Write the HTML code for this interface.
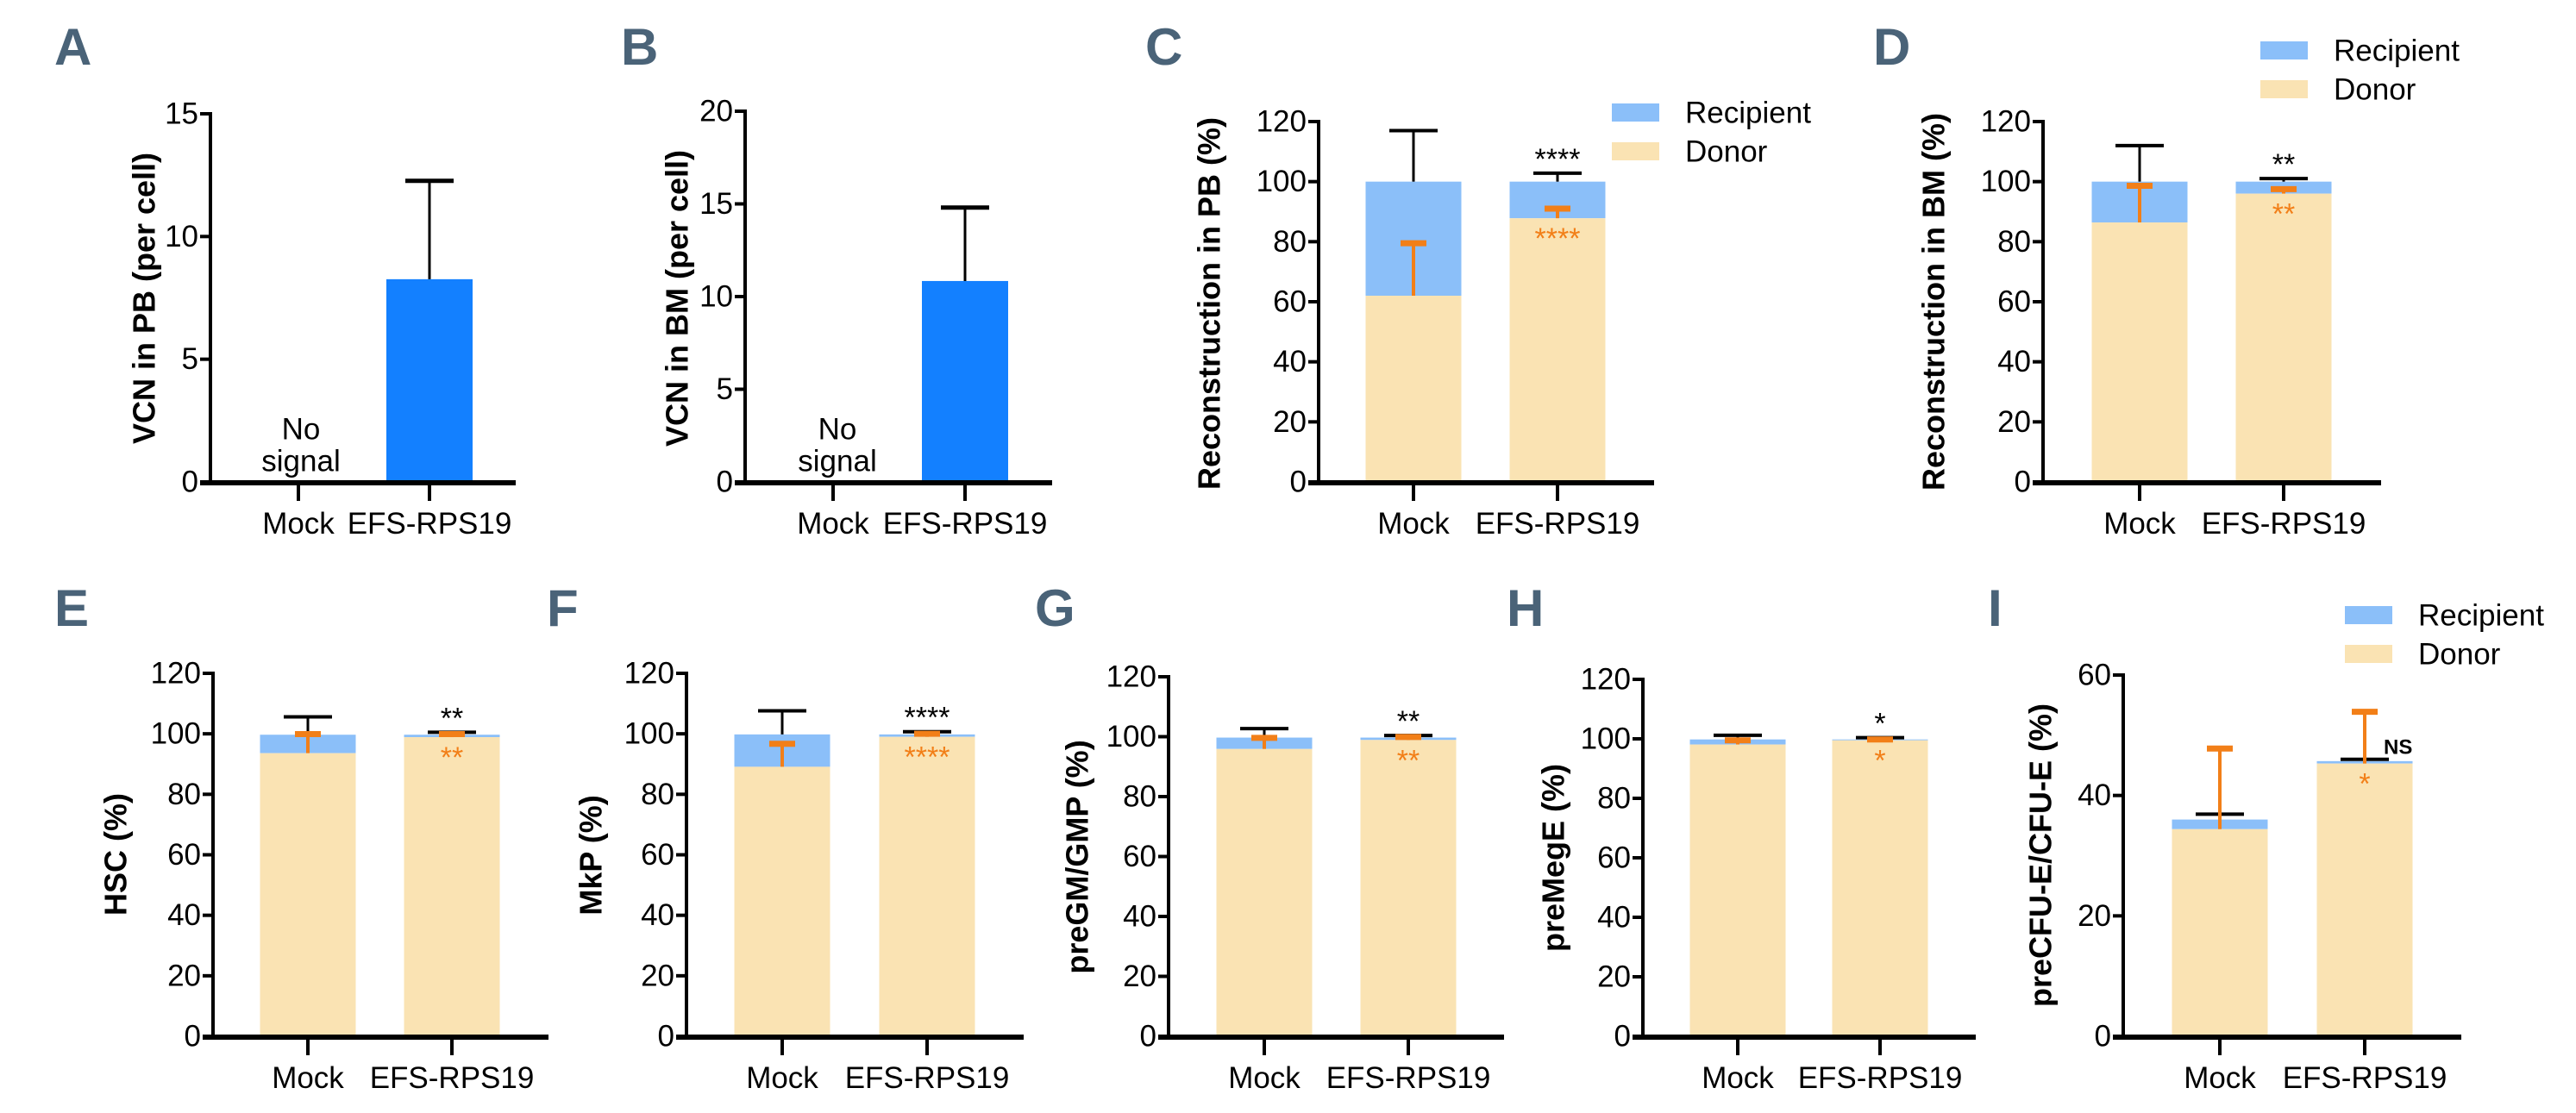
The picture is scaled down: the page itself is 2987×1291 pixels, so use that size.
<!DOCTYPE html>
<html><head><meta charset="utf-8"><style>
html,body{margin:0;padding:0;background:#fff}
svg{display:block}
text{font-family:"Liberation Sans",Arial,sans-serif}
</style></head><body>
<svg id="fig" width="2987" height="1291" viewBox="0 0 2987 1291" xmlns="http://www.w3.org/2000/svg"></svg>
<script>
// ---- data ----
const groups = ["Mock", "EFS-RPS19"];
const aValues = [null, 8.26];
const aErr = [null, 12.27];
const bValues = [null, 10.84];
const bErr = [null, 14.8];
const cDonor = [62, 87.8];  const cTotal = [100, 100]; const cBlack = [117, 102.8]; const cOrange = [79.5, 91];
const dDonor = [86.4, 96];  const dTotal = [100, 100]; const dBlack = [112, 101];   const dOrange = [98.6, 97.5];
const eDonor = [93.6, 98.9]; const eTotal = [99.7, 99.7]; const eBlack = [105.6, 100.5]; const eOrange = [99.9, 99.9];
const fDonor = [89.1, 99];  const fTotal = [99.8, 99.8]; const fBlack = [107.6, 100.7]; const fOrange = [96.7, 100];
const gDonor = [95.9, 98.9]; const gTotal = [99.7, 99.7]; const gBlack = [102.7, 100.4]; const gOrange = [99.6, 99.9];
const hDonor = [98.1, 99.5]; const hTotal = [99.8, 99.8]; const hBlack = [101.2, 100.4]; const hOrange = [99.5, 99.8];
const iDonor = [34.4, 45.3]; const iTotal = [36.0, 45.7]; const iBlack = [36.9, 46.0]; const iOrange = [47.8, 53.9];
const cStars = ["****","****"]; const dStars = ["**","**"]; const eStars = ["**","**"];
const fStars = ["****","****"]; const gStars = ["**","**"]; const hStars = ["*","*"]; const iStars = ["NS","*"];
const ticks120 = [0,20,40,60,80,100,120];
const ticks60 = [0,20,40,60];
const ticks15 = [0,5,10,15];
const ticks20 = [0,5,10,15,20];

const NS = "http://www.w3.org/2000/svg";
const svg = document.getElementById('fig');
const C_BLUE = "#1380ff", C_REC = "#8bbff9", C_DON = "#fae3b3", C_OR = "#f27f18";
function el(tag, attrs, parent, text){
  const e = document.createElementNS(NS, tag);
  for (const k in attrs) e.setAttribute(k, attrs[k]);
  if (text !== undefined) e.textContent = text;
  (parent || svg).appendChild(e);
  return e;
}
function panel(g){
  const grp = el('g', {});
  
  
  const ys = v => g.y0 - (v / g.max) * (g.y0 - g.yTop);
  const L = el('text', {x:g.lx, y:g.ly, 'font-size':60, 'font-weight':'bold', fill:'#4a6378'}, grp, g.letter);
  
  
  const yl = el('text', {x:0, y:0, 'font-size':36, 'font-weight':'bold', 'text-anchor':'middle', 'dominant-baseline':'central',
    transform:`translate(${g.ylx},${g.yly}) rotate(-90)`}, grp, g.ylabel);
  
  
  const bw = g.bw;
  g.tx.forEach((cx, i) => {
    if (g.single) {
      if (g.vals[i] == null) return;
      const r = el('rect', {x:cx-bw/2, y:ys(g.vals[i]), width:bw, height:g.y0-ys(g.vals[i]), fill:C_BLUE}, grp);
      
      
      el('line', {x1:cx, x2:cx, y1:ys(g.vals[i]), y2:ys(g.err[i]), stroke:'#000', 'stroke-width':3}, grp);
      el('line', {x1:cx-28, x2:cx+28, y1:ys(g.err[i]), y2:ys(g.err[i]), stroke:'#000', 'stroke-width':5}, grp);
    } else {
      const rr = el('rect', {x:cx-bw/2, y:ys(g.total[i]), width:bw, height:ys(g.donor[i])-ys(g.total[i]), fill:C_REC}, grp);
      
      
      const rd = el('rect', {x:cx-bw/2, y:ys(g.donor[i]), width:bw, height:g.y0-ys(g.donor[i]), fill:C_DON}, grp);
      
      
      el('line', {x1:cx, x2:cx, y1:ys(g.total[i]), y2:ys(g.black[i]), stroke:'#000', 'stroke-width':3}, grp);
      el('line', {x1:cx-28, x2:cx+28, y1:ys(g.black[i]), y2:ys(g.black[i]), stroke:'#000', 'stroke-width':4}, grp);
      el('line', {x1:cx, x2:cx, y1:ys(g.donor[i]), y2:ys(g.orange[i]), stroke:C_OR, 'stroke-width':4}, grp);
      el('line', {x1:cx-15, x2:cx+15, y1:ys(g.orange[i]), y2:ys(g.orange[i]), stroke:C_OR, 'stroke-width':7}, grp);
      if (i === 1) {
        if (g.stars[0] === "NS") {
          el('text', {x:cx+22, y:ys(g.black[i])-14, 'font-size':24, 'font-weight':'bold', 'dominant-baseline':'central'}, grp, 'NS');
        } else {
          el('text', {x:cx, y:ys(g.black[i])-16, 'font-size':34, 'text-anchor':'middle', 'dominant-baseline':'central'}, grp, g.stars[0]);
        }
        el('text', {x:cx, y:ys(g.donor[i])+24, 'font-size':34, fill:C_OR, 'text-anchor':'middle', 'dominant-baseline':'central'}, grp, g.stars[1]);
      }
    }
  });
  el('line', {x1:g.ax, x2:g.ax, y1:g.yTop-2, y2:g.y0, stroke:'#000', 'stroke-width':4}, grp);
  el('line', {x1:g.ax-12, x2:g.xEnd, y1:g.y0+1, y2:g.y0+1, stroke:'#000', 'stroke-width':6}, grp);
  g.ticks.forEach(t => {
    el('line', {x1:g.ax-12, x2:g.ax, y1:ys(t), y2:ys(t), stroke:'#000', 'stroke-width':4}, grp);
    const tl = el('text', {x:g.ax-14, y:ys(t), 'font-size':35, 'text-anchor':'end', 'dominant-baseline':'central'}, grp, String(t));
    
    
  });
  g.tx.forEach((cx, i) => {
    el('line', {x1:cx, x2:cx, y1:g.y0, y2:g.y0+22, stroke:'#000', 'stroke-width':4}, grp);
    const xl = el('text', {x:cx, y:g.y0+60, 'font-size':35, 'text-anchor':'middle'}, grp, groups[i]);
    
    
  });
  if (g.nosignal) {
    el('text', {x:g.nosignal, y:g.y0-61, 'font-size':35, 'text-anchor':'middle', 'dominant-baseline':'central'}, grp, 'No');
    el('text', {x:g.nosignal, y:g.y0-24, 'font-size':35, 'text-anchor':'middle', 'dominant-baseline':'central'}, grp, 'signal');
  }
  if (g.legend) {
    const [lx, ly] = g.legend;
    const lg = el('g', {}, grp);
    
    
    el('rect', {x:lx, y:ly, width:55, height:21, fill:C_REC}, lg);
    el('text', {x:lx+85, y:ly+11, 'font-size':35, 'dominant-baseline':'central'}, lg, 'Recipient');
    el('rect', {x:lx, y:ly+45, width:55, height:21, fill:C_DON}, lg);
    el('text', {x:lx+85, y:ly+56, 'font-size':35, 'dominant-baseline':'central'}, lg, 'Donor');
  }
}
panel({letter:'A', lx:63, ly:75, ylabel:'VCN in PB (per cell)', ylx:167, yly:346, ax:244, y0:559, yTop:132, max:15, ticks:ticks15,
  xEnd:598, tx:[346,498], bw:100, single:true, vals:aValues, err:aErr, nosignal:349});
panel({letter:'B', lx:720, ly:75, ylabel:'VCN in BM (per cell)', ylx:785, yly:346, ax:864, y0:559, yTop:129, max:20, ticks:ticks20,
  xEnd:1220, tx:[966,1119], bw:100, single:true, vals:bValues, err:bErr, nosignal:971});
panel({letter:'C', lx:1328, ly:75, ylabel:'Reconstruction in PB (%)', ylx:1402, yly:352, ax:1529, y0:559, yTop:141, max:120, ticks:ticks120,
  xEnd:1918, tx:[1639,1806], bw:111, donor:cDonor, total:cTotal, black:cBlack, orange:cOrange, stars:cStars, legend:[1869,120]});
panel({letter:'D', lx:2172, ly:75, ylabel:'Reconstruction in BM (%)', ylx:2242, yly:350, ax:2369, y0:559, yTop:141, max:120, ticks:ticks120,
  xEnd:2761, tx:[2481,2648], bw:111, donor:dDonor, total:dTotal, black:dBlack, orange:dOrange, stars:dStars, legend:[2621,48]});
panel({letter:'E', lx:63, ly:726, ylabel:'HSC (%)', ylx:134, yly:991, ax:247, y0:1202, yTop:781, max:120, ticks:ticks120,
  xEnd:636, tx:[357,524], bw:111, donor:eDonor, total:eTotal, black:eBlack, orange:eOrange, stars:eStars});
panel({letter:'F', lx:634, ly:726, ylabel:'MkP (%)', ylx:685, yly:992, ax:796, y0:1202, yTop:781, max:120, ticks:ticks120,
  xEnd:1187, tx:[907,1075], bw:111, donor:fDonor, total:fTotal, black:fBlack, orange:fOrange, stars:fStars});
panel({letter:'G', lx:1200, ly:726, ylabel:'preGM/GMP (%)', ylx:1249, yly:994, ax:1355, y0:1202, yTop:785, max:120, ticks:ticks120,
  xEnd:1744, tx:[1466,1633], bw:111, donor:gDonor, total:gTotal, black:gBlack, orange:gOrange, stars:gStars});
panel({letter:'H', lx:1747, ly:726, ylabel:'preMegE (%)', ylx:1801, yly:995, ax:1905, y0:1202, yTop:788, max:120, ticks:ticks120,
  xEnd:2291, tx:[2015,2180], bw:111, donor:hDonor, total:hTotal, black:hBlack, orange:hOrange, stars:hStars});
panel({letter:'I', lx:2305, ly:726, ylabel:'preCFU-E/CFU-E (%)', ylx:2366, yly:992, ax:2462, y0:1202, yTop:783, max:60, ticks:ticks60,
  xEnd:2854, tx:[2574,2742], bw:111, donor:iDonor, total:iTotal, black:iBlack, orange:iOrange, stars:iStars, legend:[2719,703]});
</script>
</body></html>
